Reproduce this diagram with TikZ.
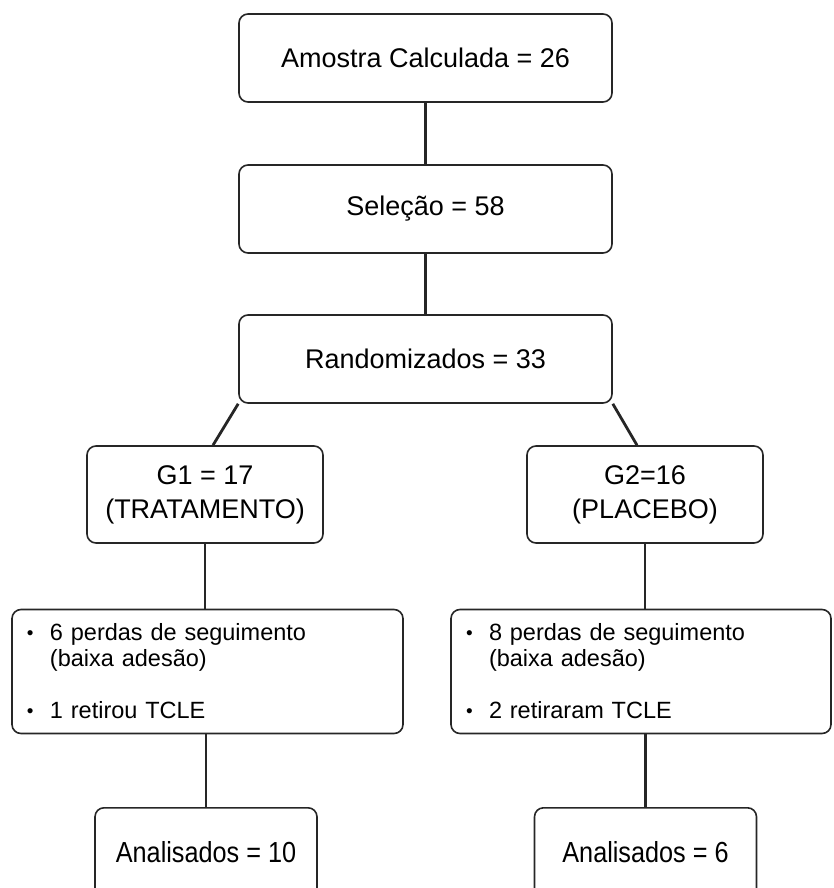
\documentclass[tikz,border=0pt]{standalone}
\usepackage{fontspec}
\setmainfont{Liberation Sans}
\usetikzlibrary{positioning}
\newcommand{\lossitem}{\makebox[23pt][l]{\raisebox{1pt}{\fontsize{19}{19}\selectfont\textbullet}}}
\newcommand{\lossgap}{\hspace*{23pt}}
\newcommand{\narrow}[1]{\scalebox{0.87}[1]{#1}}

\begin{document}
\begin{tikzpicture}[
  x=1pt, y=-1pt,
  box/.style={
    draw=black!85,
    line width=1.6pt,
    rounded corners=9pt,
    align=center,
    font=\fontsize{27}{34}\selectfont
    },
  stagebox/.style={box, minimum width=373pt, minimum height=88pt},
  groupbox/.style={box, minimum width=236pt, minimum height=97pt},
  lossbox/.style={
    box,
    align=left,
    text width=#1,
    inner xsep=15pt,
    minimum height=124pt,
    font=\fontsize{23.5}{26}\selectfont
    },
  endbox/.style={
    box,
    anchor=north,
    minimum width=222pt,
    font=\fontsize{29}{34}\selectfont,
    text height=21pt,
    text depth=40pt,
    inner ysep=34pt
    },
  link/.style={draw=black!85, line width=2.8pt}
]
\clip (0,0) rectangle (833,888);

\node[stagebox] (amostra) at (425.5,58) {Amostra Calculada = 26};
\node[stagebox] (selecao) at (425.5,209) {Seleção = 58};
\node[stagebox] (random) at (425.5,359) {Randomizados = 33};

\node[groupbox] (g1) at (205,494.5) {G1 = 17\\(TRATAMENTO)};
\node[groupbox] (g2) at (645,494.5) {G2=16\\(PLACEBO)};

\node[lossbox=361pt] (perda1) at (207.5,671.5)
  {
  \lossitem 6 perdas de seguimento\\
  \lossgap (baixa adesão)\\[26pt]
  \lossitem 1 retirou TCLE
  };
\node[lossbox=350pt] (perda2) at (641,671.5)
  {
  \lossitem 8 perdas de seguimento\\
  \lossgap (baixa adesão)\\[26pt]
  \lossitem 2 retiraram TCLE
  };

\node[endbox] (anal1) at (206,807) {\narrow{Analisados = 10}};
\node[endbox] (anal2) at (645.5,807) {\narrow{Analisados = 6}};

% connectors
\draw[link] (amostra) -- (selecao);
\draw[link] (selecao) -- (random);
\draw[link] (random.south west) -- ([xshift=8pt]g1.north);
\draw[link] (random.south east) -- ([xshift=-8pt]g2.north);
\draw[link] (g1.south) -- (g1.south |- perda1.north);
\draw[link] (g2.south) -- (g2.south |- perda2.north);
\draw[link] (perda1.south -| anal1.north) -- (anal1.north);
\draw[link] (perda2.south -| anal2.north) -- (anal2.north);
\end{tikzpicture}
\end{document}
